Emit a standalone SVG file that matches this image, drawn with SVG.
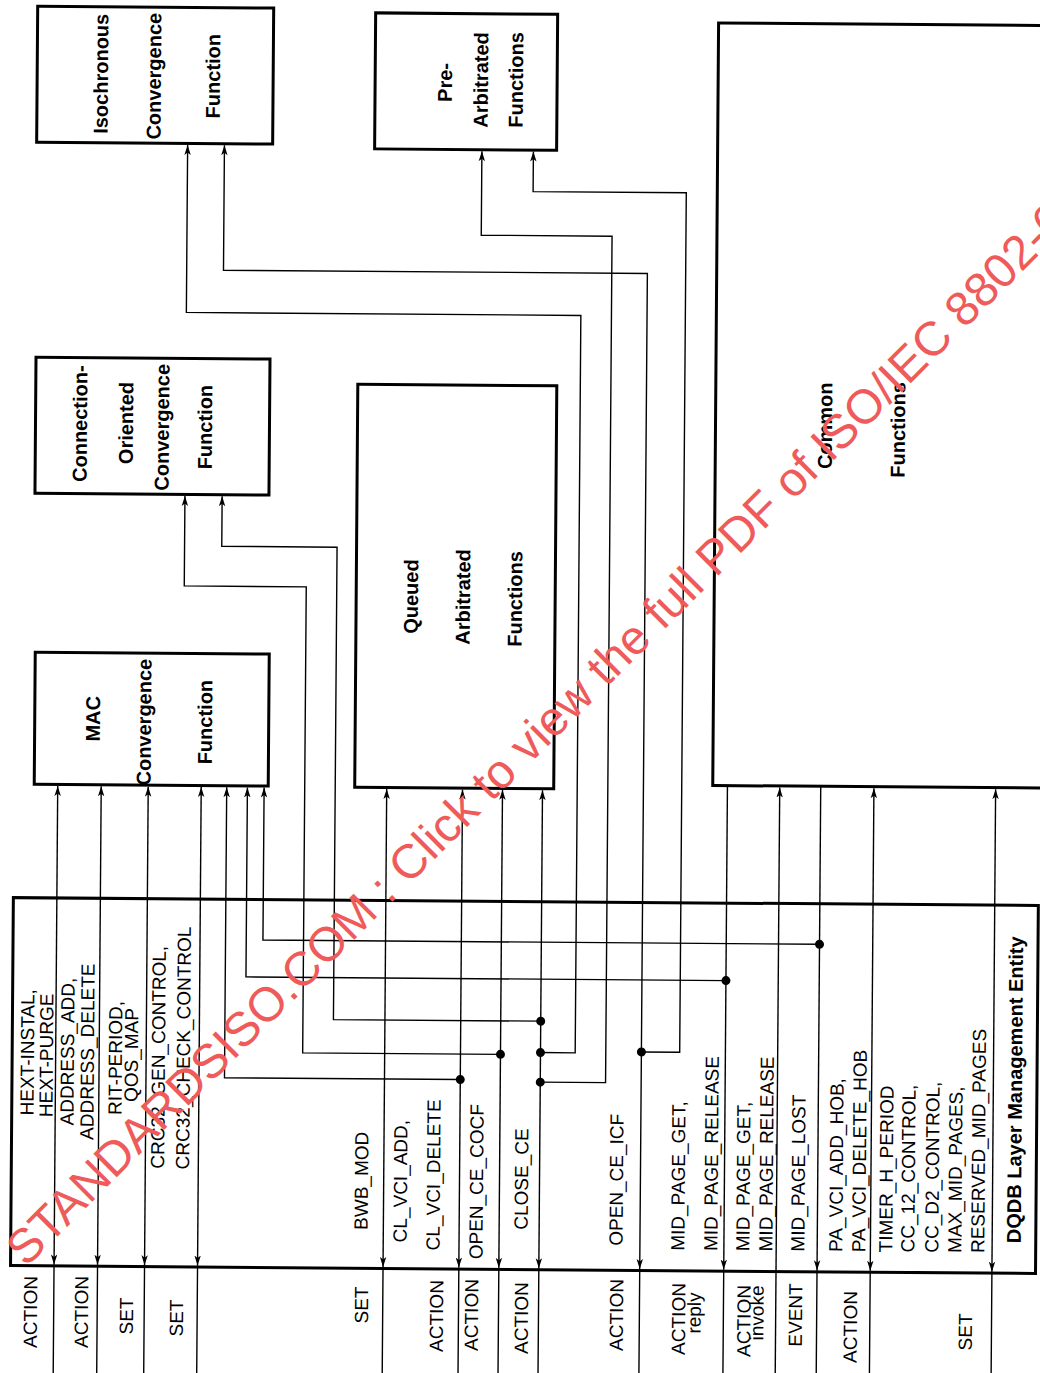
<svg xmlns="http://www.w3.org/2000/svg" width="1040" height="1373" viewBox="0 0 1040 1373">
<style>
.box{fill:#fff;stroke:#000;stroke-width:3}
.ln{fill:none;stroke:#000;stroke-width:1.4}
.b{font-family:"Liberation Sans",Arial,sans-serif;font-weight:bold;font-size:20px;fill:#000}
.t{font-family:"Liberation Sans",Arial,sans-serif;font-size:19px;fill:#000}
.wm{font-family:"Liberation Sans",Arial,sans-serif;font-size:48px;fill:#ef5b5b}
</style>
<defs>
<marker id="ah" viewBox="0 0 10 8" refX="10" refY="4" markerWidth="10" markerHeight="8" markerUnits="userSpaceOnUse" orient="auto-start-reverse"><path d="M0,0.8 L10,4 L0,7.2 L2.5,4 Z" fill="#000"/></marker>
</defs>
<rect width="1040" height="1373" fill="#fff"/>
<g transform="rotate(0.44 520 686)">
<g id="lme">
<rect class="box" x="15" y="901.5" width="1025" height="368"/>
<text class="b" transform="translate(1025,1086) rotate(-90)" text-anchor="middle">DQDB Layer Management Entity</text>
<g class="t">
<text transform="translate(36.8,1056) rotate(-90)" text-anchor="middle">HEXT-INSTAL,</text>
<text transform="translate(55.8,1059) rotate(-90)" text-anchor="middle">HEXT-PURGE</text>
<text transform="translate(76.8,1055) rotate(-90)" text-anchor="middle">ADDRESS_ADD,</text>
<text transform="translate(96.8,1055) rotate(-90)" text-anchor="middle">ADDRESS_DELETE</text>
<text transform="translate(124.8,1061) rotate(-90)" text-anchor="middle">RIT-PERIOD,</text>
<text transform="translate(140.8,1058) rotate(-90)" text-anchor="middle">QOS_MAP</text>
<text transform="translate(167.8,1060) rotate(-90)" text-anchor="middle">CRC32_GEN_CONTROL,</text>
<text transform="translate(192.8,1050.5) rotate(-90)" text-anchor="middle">CRC32_CHECK_CONTROL</text>
<text transform="translate(371.8,1182) rotate(-90)" text-anchor="middle">BWB_MOD</text>
<text transform="translate(410.8,1182) rotate(-90)" text-anchor="middle">CL_VCI_ADD,</text>
<text transform="translate(443.8,1175.5) rotate(-90)" text-anchor="middle">CL_VCI_DELETE</text>
<text transform="translate(486.8,1182) rotate(-90)" text-anchor="middle">OPEN_CE_COCF</text>
<text transform="translate(531.8,1179) rotate(-90)" text-anchor="middle">CLOSE_CE</text>
<text transform="translate(626.8,1179) rotate(-90)" text-anchor="middle">OPEN_CE_ICF</text>
<text transform="translate(688.6,1249.5) rotate(-90)">MID_PAGE_GET,</text>
<text transform="translate(721.6,1249.5) rotate(-90)">MID_PAGE_RELEASE</text>
<text transform="translate(753.6,1249.5) rotate(-90)">MID_PAGE_GET,</text>
<text transform="translate(776.6,1249.5) rotate(-90)">MID_PAGE_RELEASE</text>
<text transform="translate(808.6,1249.5) rotate(-90)">MID_PAGE_LOST</text>
<text transform="translate(846.6,1249.5) rotate(-90)">PA_VCI_ADD_HOB,</text>
<text transform="translate(869.6,1249.5) rotate(-90)">PA_VCI_DELETE_HOB</text>
<text transform="translate(896.6,1249.5) rotate(-90)">TIMER_H_PERIOD</text>
<text transform="translate(918.6,1249.5) rotate(-90)">CC_12_CONTROL,</text>
<text transform="translate(942.6,1249.5) rotate(-90)">CC_D2_CONTROL,</text>
<text transform="translate(965.6,1249.5) rotate(-90)">MAX_MID_PAGES,</text>
<text transform="translate(988.6,1249.5) rotate(-90)">RESERVED_MID_PAGES</text>
</g>
</g>
<g id="iso"><rect class="box" x="32.5" y="10" width="236" height="136"/>
<text class="b" transform="translate(103.3,77) rotate(-90)" text-anchor="middle">Isochronous</text>
<text class="b" transform="translate(156.3,79) rotate(-90)" text-anchor="middle">Convergence</text>
<text class="b" transform="translate(215.3,78.5) rotate(-90)" text-anchor="middle">Function</text></g>
<g id="pre"><rect class="box" x="370.5" y="14" width="182" height="136"/>
<text class="b" transform="translate(447.3,83) rotate(-90)" text-anchor="middle">Pre-</text>
<text class="b" transform="translate(483.3,80.3) rotate(-90)" text-anchor="middle">Arbitrated</text>
<text class="b" transform="translate(518.3,80) rotate(-90)" text-anchor="middle">Functions</text></g>
<g id="cocf"><rect class="box" x="33.5" y="361" width="234" height="136"/>
<text class="b" transform="translate(85,427) rotate(-90)" text-anchor="middle">Connection-</text>
<text class="b" transform="translate(131,426) rotate(-90)" text-anchor="middle">Oriented</text>
<text class="b" transform="translate(167,430) rotate(-90)" text-anchor="middle">Convergence</text>
<text class="b" transform="translate(210,429.5) rotate(-90)" text-anchor="middle">Function</text></g>
<g id="mac"><rect class="box" x="35" y="656" width="234" height="132"/>
<text class="b" transform="translate(100.3,722) rotate(-90)" text-anchor="middle">MAC</text>
<text class="b" transform="translate(151.3,725) rotate(-90)" text-anchor="middle">Convergence</text>
<text class="b" transform="translate(212.3,724.5) rotate(-90)" text-anchor="middle">Function</text></g>
<g id="qaf"><rect class="box" x="355.5" y="385.5" width="199" height="403"/>
<text class="b" transform="translate(417.3,597.4) rotate(-90)" text-anchor="middle">Queued</text>
<text class="b" transform="translate(469.3,597.4) rotate(-90)" text-anchor="middle">Arbitrated</text>
<text class="b" transform="translate(521.3,599) rotate(-90)" text-anchor="middle">Functions</text></g>
<g id="common"><rect class="box" x="713.5" y="21.5" width="400" height="762.5"/>
<text class="b" transform="translate(830,423.4) rotate(-90)" text-anchor="middle">Common</text>
<text class="b" transform="translate(903,427) rotate(-90)" text-anchor="middle">Functions</text></g>
<g id="connectors">
<g class="ln">
<path d="M58.5,1268 V789.5" marker-start="url(#ah)" marker-end="url(#ah)"/>
<path d="M102,1268 V789.5" marker-start="url(#ah)" marker-end="url(#ah)"/>
<path d="M149,1268 V789.5" marker-start="url(#ah)" marker-end="url(#ah)"/>
<path d="M202,1268 V789.5" marker-start="url(#ah)" marker-end="url(#ah)"/>
<path d="M387.5,1268 V790" marker-start="url(#ah)" marker-end="url(#ah)"/>
<path d="M463.3,1268 V790" marker-start="url(#ah)" marker-end="url(#ah)"/>
<path d="M463.3,1080 H227.5 V789.5" marker-end="url(#ah)"/>
<path d="M503.3,1268 V790" marker-start="url(#ah)" marker-end="url(#ah)"/>
<path d="M503.3,1054.5 H305.5 V588.5 H183.5 V498.5" marker-end="url(#ah)"/>
<path d="M543.3,1268 V790" marker-start="url(#ah)" marker-end="url(#ah)"/>
<path d="M543.3,1021 H336 V548.6 H220.7 V498.5" marker-end="url(#ah)"/>
<path d="M543.3,1052.4 H578 V315 H183.5 V147.5" marker-end="url(#ah)"/>
<path d="M543.3,1082 H608.6 V235.5 H477.8 V151.5" marker-end="url(#ah)"/>
<path d="M644.2,1268 V272.5 H220.3 V147.5" marker-start="url(#ah)" marker-end="url(#ah)"/>
<path d="M644.2,1051 H682.5 V191.5 H529.3 V151.5" marker-end="url(#ah)"/>
<path d="M728.2,784 V1268" marker-end="url(#ah)"/>
<path d="M728.2,979 H248.2 V789.5" marker-end="url(#ah)"/>
<path d="M780.5,1390 V785.5" marker-end="url(#ah)"/>
<path d="M821.5,784 V1268" marker-end="url(#ah)"/>
<path d="M821.5,942 H264.9 V789.5" marker-end="url(#ah)"/>
<path d="M874.7,1268 V785.5" marker-start="url(#ah)" marker-end="url(#ah)"/>
<path d="M996.4,1268 V785.5" marker-start="url(#ah)" marker-end="url(#ah)"/>
<path d="M58.5,1268V1390M102,1268V1390M149,1268V1390M202,1268V1390M387.5,1268V1390M463.3,1268V1390M503.3,1268V1390M543.3,1268V1390M644.2,1268V1390M728.2,1268V1390M821.5,1268V1390M874.7,1268V1390M996.4,1268V1390"/>
</g>
<g fill="#000">
<circle cx="463.3" cy="1080" r="4.5"/>
<circle cx="503.3" cy="1054.5" r="4.5"/>
<circle cx="543.3" cy="1021" r="4.5"/>
<circle cx="543.3" cy="1052.4" r="4.5"/>
<circle cx="543.3" cy="1082" r="4.5"/>
<circle cx="644.2" cy="1051" r="4.5"/>
<circle cx="728.2" cy="979" r="4.5"/>
<circle cx="821.5" cy="942" r="4.5"/>
</g>
</g>
<g id="column-labels" class="t">
<text transform="translate(41.8,1315.7) rotate(-90)" text-anchor="middle">ACTION</text>
<text transform="translate(92.8,1315.3) rotate(-90)" text-anchor="middle">ACTION</text>
<text transform="translate(137.8,1319) rotate(-90)" text-anchor="middle">SET</text>
<text transform="translate(187.8,1320.6) rotate(-90)" text-anchor="middle">SET</text>
<text transform="translate(372.8,1306.2) rotate(-90)" text-anchor="middle">SET</text>
<text transform="translate(447.8,1316.6) rotate(-90)" text-anchor="middle">ACTION</text>
<text transform="translate(482.8,1315.3) rotate(-90)" text-anchor="middle">ACTION</text>
<text transform="translate(532.8,1318) rotate(-90)" text-anchor="middle">ACTION</text>
<text transform="translate(627.8,1314.2) rotate(-90)" text-anchor="middle">ACTION</text>
<text transform="translate(690,1317.7) rotate(-90)" text-anchor="middle">ACTION</text>
<text transform="translate(705.5,1311.6) rotate(-90)" text-anchor="middle">reply</text>
<text transform="translate(755.3,1319.2) rotate(-90)" text-anchor="middle">ACTION</text>
<text transform="translate(768.3,1311.1) rotate(-90)" text-anchor="middle">invoke</text>
<text transform="translate(806.8,1312.8) rotate(-90)" text-anchor="middle">EVENT</text>
<text transform="translate(861.8,1324.4) rotate(-90)" text-anchor="middle">ACTION</text>
<text transform="translate(976.8,1328.5) rotate(-90)" text-anchor="middle">SET</text>
</g>
</g>
<text class="wm" transform="translate(26,1268) rotate(-45)">STANDARDSISO.COM : Click to view the full PDF of ISO/IEC 8802-6</text>
</svg>
